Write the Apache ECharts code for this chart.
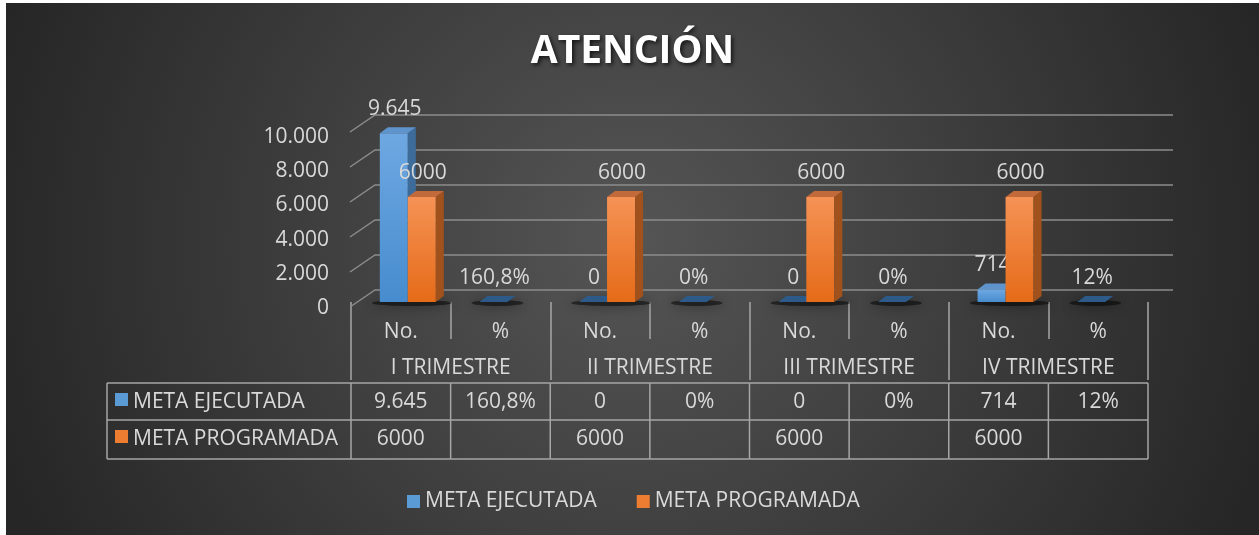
<!DOCTYPE html>
<html>
<head>
<meta charset="utf-8">
<script src="https://cdn.jsdelivr.net/npm/echarts@6/dist/echarts.min.js"></script>
<style>
html, body { margin: 0; padding: 0; background: #fff; }
#grafico { position: absolute; left: 6px; top: 3px; width: 1253px; height: 532px; }
</style>
</head>
<body>
<div id="grafico"></div>
<script>
// datos
var categorias = ['No.', '%', 'No.', '%', 'No.', '%', 'No.', '%'];
var trimestres = ['I TRIMESTRE', 'II TRIMESTRE', 'III TRIMESTRE', 'IV TRIMESTRE'];
var metaEjecutada = [9645, 1.608, 0, 0, 0, 0, 714, 0.12];
var metaProgramada = [6000, null, 6000, null, 6000, null, 6000, null];
var marcasY = [0, 2000, 4000, 6000, 8000, 10000];

var FUENTE = '"Open Sans", "Noto Sans", sans-serif';
var TAM = 21;
var GRIS_TXT = '#d9d9d9';
var GRIS_LIN = '#a6a6a6';
var ANCHO = 28;      // ancho de barra
var PX = 8, PY = -6; // profundidad de barra

function esPct(i) { return categorias[i] === '%'; }
function miles(v) { return String(v).replace(/\B(?=(\d{3})+(?!\d))/g, '.'); }
function fmtEjecutada(v, i) {
    if (esPct(i)) return String(Math.round(v * 1000) / 10).replace('.', ',') + '%';
    return miles(v);
}
function fmtProgramada(v) { return v == null ? '' : String(v); }

function texto(x, y, t, align) {
    return {
        type: 'text',
        style: { x: x, y: y, text: t, fill: GRIS_TXT, font: TAM + 'px ' + FUENTE,
                 align: align || 'center', verticalAlign: 'middle' }
    };
}

function barra3d(desp, colores, fmt) {
    return function (params, api) {
        var i = api.value(0), v = api.value(1);
        if (isNaN(v)) return;
        var base = api.coord([i, 0]);
        var cima = api.coord([i, v]);
        var x = base[0] + desp, y0 = base[1], y1 = cima[1];
        var plano = (y0 - y1) < 1;
        return {
            type: 'group',
            children: [{
                type: 'rect',
                shape: { x: x, y: y1, width: ANCHO, height: y0 - y1 },
                style: { fill: new echarts.graphic.LinearGradient(0, 0, 0, 1, [
                    { offset: 0, color: colores[0] }, { offset: 1, color: colores[1] }]) }
            }, {
                type: 'polygon',
                shape: { points: [[x + ANCHO, y1], [x + ANCHO + PX, y1 + PY], [x + ANCHO + PX, y0 + PY], [x + ANCHO, y0]] },
                style: { fill: colores[2] }
            }, {
                type: 'polygon',
                shape: { points: [[x, y1], [x + PX, y1 + PY], [x + ANCHO + PX, y1 + PY], [x + ANCHO, y1]] },
                style: { fill: plano ? colores[4] : colores[3] }
            },
            texto(x + ANCHO / 2 + 1, y1 - 24, fmt(v, i))]
        };
    };
}

var chart = echarts.init(document.getElementById('grafico'));

var option = {
    backgroundColor: {
        type: 'radial', x: 0.5, y: 0.45, r: 1.25,
        colorStops: [{ offset: 0, color: '#555555' }, { offset: 1, color: '#262626' }]
    },
    title: {
        text: 'ATENCIÓN',
        left: 'center',
        top: 24,
        textStyle: {
            color: '#ffffff', fontSize: 39, fontWeight: 'bold', fontFamily: FUENTE,
            textShadowColor: 'rgba(0,0,0,0.7)', textShadowBlur: 4,
            textShadowOffsetX: 2, textShadowOffsetY: 2
        }
    },
    legend: {
        left: 396,
        top: 483,
        icon: 'rect',
        itemWidth: 13,
        itemHeight: 13,
        itemGap: 40,
        textStyle: { color: GRIS_TXT, fontSize: TAM, fontFamily: FUENTE },
        data: ['META EJECUTADA', 'META PROGRAMADA']
    },
    grid: [
        { left: 345, right: 111, top: 124, bottom: 233 },  // barras
        { left: 345, right: 111, top: 134, bottom: 227 },  // etiquetas eje y
        { left: 345, right: 111, top: 124, bottom: 233 }   // trimestres
    ],
    xAxis: [{
        gridIndex: 0,
        type: 'category',
        data: categorias,
        offset: 6,
        axisLine: { show: false },
        axisTick: { show: true, interval: 0, length: 37, lineStyle: { color: GRIS_LIN, width: 1.5 } },
        axisLabel: { interval: 0, margin: 14, color: GRIS_TXT, fontSize: TAM, fontFamily: FUENTE }
    }, {
        gridIndex: 1,
        type: 'category',
        data: categorias,
        show: false
    }, {
        gridIndex: 2,
        type: 'category',
        data: trimestres,
        offset: 6,
        axisLine: { show: false },
        axisTick: { show: true, interval: 0, length: 78, lineStyle: { color: GRIS_LIN, width: 1.5 } },
        axisLabel: { interval: 0, margin: 50, color: GRIS_TXT, fontSize: TAM, fontFamily: FUENTE }
    }],
    yAxis: [{
        gridIndex: 0, type: 'value', min: 0, max: 10000, interval: 2000,
        axisLine: { show: false }, axisTick: { show: false },
        axisLabel: { show: false }, splitLine: { show: false }
    }, {
        gridIndex: 1, type: 'value', min: 0, max: 10000, interval: 2000,
        axisLine: { show: false }, axisTick: { show: false }, splitLine: { show: false },
        axisLabel: { margin: 22, color: GRIS_TXT, fontSize: TAM, fontFamily: FUENTE, formatter: miles }
    }, {
        gridIndex: 2, type: 'value', min: 0, max: 10000, show: false
    }],
    series: [{
        // pared del fondo y pared izquierda
        type: 'custom',
        name: 'rejilla',
        xAxisIndex: 0, yAxisIndex: 0,
        silent: true,
        z: 1,
        data: marcasY.map(function (v) { return [0, v]; }),
        renderItem: function (params, api) {
            var cs = params.coordSys;
            var y = api.coord([0, api.value(1)])[1];
            return {
                type: 'polyline',
                shape: { points: [[cs.x - 1, y + 5], [cs.x + 24, y - 12], [cs.x + cs.width + 25, y - 12]] },
                style: { stroke: '#8c8c8c', lineWidth: 1.5, fill: null }
            };
        }
    }, {
        // sombras en el piso
        type: 'custom',
        name: 'sombra',
        xAxisIndex: 0, yAxisIndex: 0,
        silent: true,
        z: 2,
        data: categorias.map(function (c, i) { return [i, 0]; }),
        renderItem: function (params, api) {
            var i = api.value(0);
            var n = (metaEjecutada[i] != null ? 1 : 0) + (metaProgramada[i] != null ? 1 : 0);
            var b = api.coord([i, 0]);
            var cx = b[0] - 21 + n * ANCHO / 2 + 4;
            return {
                type: 'ellipse',
                shape: { cx: cx, cy: b[1] + 1, rx: n * 14 + 12, ry: 3 },
                style: { fill: 'rgba(0,0,0,0.5)', shadowBlur: 12, shadowColor: 'rgba(0,0,0,0.9)' }
            };
        }
    }, {
        type: 'custom',
        name: 'META EJECUTADA',
        xAxisIndex: 0, yAxisIndex: 0,
        z: 3,
        itemStyle: { color: '#5b9bd5' },
        data: metaEjecutada.map(function (v, i) { return [i, v]; }),
        renderItem: barra3d(-21, ['#6ea8e2', '#478cce', '#3d6c9b', '#5f93cb', '#2d5a88'], fmtEjecutada)
    }, {
        type: 'custom',
        name: 'META PROGRAMADA',
        xAxisIndex: 0, yAxisIndex: 0,
        z: 4,
        itemStyle: { color: '#ed7d31' },
        data: metaProgramada.map(function (v, i) { return [i, v]; }),
        renderItem: barra3d(7, ['#f59255', '#e56b18', '#a0511c', '#c26a3a', '#a0511c'], function (v) { return fmtProgramada(v); })
    }, {
        // tabla de datos
        type: 'custom',
        name: 'tabla',
        xAxisIndex: 0, yAxisIndex: 0,
        silent: true,
        z: 5,
        data: categorias.map(function (c, i) { return [i, 0]; }),
        renderItem: function (params, api) {
            var i = api.value(0);
            var c = api.coord([i, 0]);
            var bw = api.size([1, 0])[0];
            var xl = c[0] - bw / 2, xr = c[0] + bw / 2, y0 = c[1];
            var filas = [y0 + 81, y0 + 118, y0 + 157];
            var hijos = [];
            function linea(x1, y1, x2, y2) {
                hijos.push({ type: 'line', shape: { x1: x1, y1: y1, x2: x2, y2: y2 },
                             style: { stroke: GRIS_LIN, lineWidth: 1.5 } });
            }
            linea(xl, filas[0], xl, filas[2]);
            if (i === categorias.length - 1) linea(xr, filas[0], xr, filas[2]);
            filas.forEach(function (f) { linea(xl, f, xr, f); });
            hijos.push(texto(c[0], y0 + 100, fmtEjecutada(metaEjecutada[i], i)));
            hijos.push(texto(c[0], y0 + 137, fmtProgramada(metaProgramada[i])));
            if (i === 0) {
                var x0 = 101;
                linea(x0, filas[0], x0, filas[2]);
                filas.forEach(function (f) { linea(x0, f, xl, f); });
                hijos.push({ type: 'rect', shape: { x: 109, y: y0 + 91, width: 13, height: 13 }, style: { fill: '#5b9bd5' } });
                hijos.push({ type: 'rect', shape: { x: 109, y: y0 + 128, width: 13, height: 13 }, style: { fill: '#ed7d31' } });
                hijos.push(texto(127, y0 + 100, 'META EJECUTADA', 'left'));
                hijos.push(texto(127, y0 + 137, 'META PROGRAMADA', 'left'));
            }
            return { type: 'group', children: hijos };
        }
    }]
};

chart.setOption(option);
</script>
</body>
</html>
